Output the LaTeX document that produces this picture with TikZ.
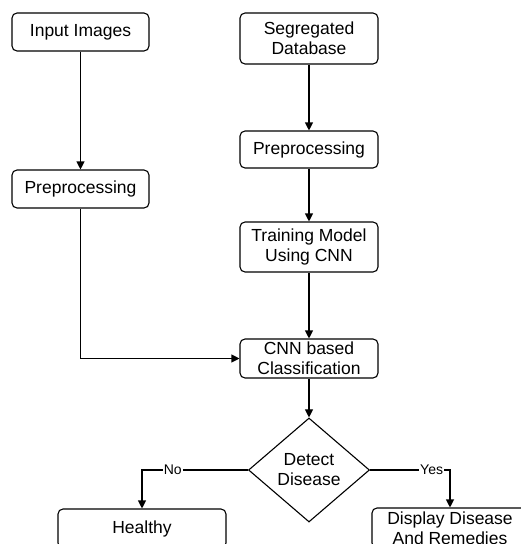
\documentclass[tikz,border=0pt]{standalone}
\usepackage{fontspec}
\setmainfont{Liberation Sans}
\usetikzlibrary{arrows.meta,shapes.geometric}
\begin{document}
\begin{tikzpicture}[x=1pt,y=-1pt,
  box/.style={draw, rounded corners=5pt, line width=1.1pt, align=center, inner sep=0pt,
    font=\fontsize{17.5}{20}\selectfont},
  dec/.style={draw, diamond, line width=1.1pt, align=center, inner sep=0pt,
    minimum width=121pt, minimum height=104pt, font=\fontsize{17.5}{20}\selectfont},
  arr/.style={line width=1.1pt, -{Triangle[length=8pt,width=8pt]}},
  lbl/.style={fill=white, inner sep=1pt, font=\fontsize{14}{16}\selectfont}]
\useasboundingbox (0,0) rectangle (521,544);
\node[box, minimum width=137pt, minimum height=38pt] (in) at (80.5,32) {Input Images};
\node[box, minimum width=137pt, minimum height=38pt] (pre1) at (80.5,189) {Preprocessing};
\node[box, minimum width=138pt, minimum height=51pt] (seg) at (309,38.5) {Segregated\\Database};
\node[box, minimum width=138pt, minimum height=37pt] (pre2) at (309,149.5) {Preprocessing};
\node[box, minimum width=138pt, minimum height=50pt] (train) at (309,247) {Training Model\\Using CNN};
\node[box, minimum width=138pt, minimum height=39pt] (cnn) at (309,358.5) {CNN based\\Classification};
\node[dec] (dia) at (309,470) {Detect\\Disease};
\node[box, minimum width=168pt, minimum height=39pt] (healthy) at (142,528.5) {Healthy};
\node[box, minimum width=156pt, minimum height=40pt] (disp) at (450,528) {Display Disease\\And Remedies};
\draw[arr] (in) -- (pre1);
\draw[arr] (seg) -- (pre2);
\draw[arr] (pre2) -- (train);
\draw[arr] (train) -- (cnn);
\draw[arr] (pre1) |- (cnn);
\draw[arr] (cnn) -- (dia);
\draw[arr] (dia.west) -- node[lbl, pos=0.71] {No} (healthy.north |- dia.west) -- (healthy.north);
\draw[arr] (dia.east) -- node[lbl, pos=0.77] {Yes} (disp.north |- dia.east) -- (disp.north);
\end{tikzpicture}
\end{document}
